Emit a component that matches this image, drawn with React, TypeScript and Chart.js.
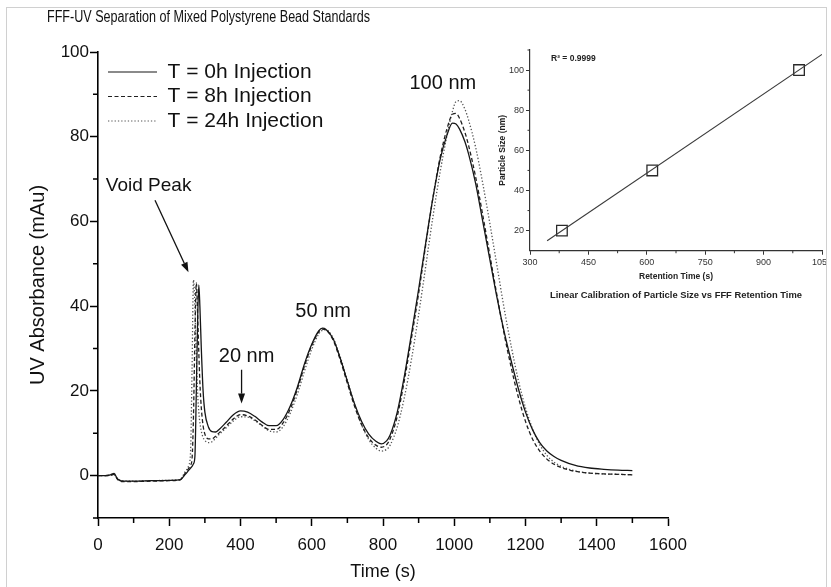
import React, { useEffect, useRef } from 'react';
import { Chart, registerables } from 'chart.js';

Chart.register(...registerables);

const FONT = '"Liberation Sans", Arial, sans-serif';

// ---------- main chromatogram data ----------
const timeS = [
  0, 20, 35, 45, 55, 70, 100, 150, 200, 230, 245, 255, 260, 264, 268, 272, 276, 280, 283, 286,
  290, 295, 300, 310, 320, 330, 340, 360, 380, 400, 420, 440, 460, 480, 500, 520, 540, 560, 580, 600,
  620, 630, 640, 660, 680, 700, 720, 740, 760, 780, 795, 810, 820, 840, 860, 880, 900, 920, 940, 960,
  980, 995, 1005, 1015, 1030, 1040, 1060, 1080, 1100, 1120, 1140, 1160, 1180, 1200, 1220, 1240, 1260, 1280, 1300, 1340,
  1380, 1420, 1460, 1500,
];

const absT0h = [
  0, 0, 0.2, 0.5, -0.8, -1.3, -1.3, -1.2, -1.1, -1.0, 0.3, 1.3, 1.8, 2.2, 2.8, 4.5, 20, 38, 45, 40,
  30, 20, 15, 11.5, 10.4, 10.3, 10.9, 12.6, 14.4, 15.3, 15.0, 14.0, 12.7, 11.8, 11.8, 13.3, 16.5, 21, 26.5, 31,
  34.2, 34.8, 34.5, 32.3, 27.7, 22.3, 17, 12.8, 9.8, 8.1, 7.5, 8.2, 9.6, 15, 23.5, 33.5, 44, 55, 65.5, 74.5,
  80.5, 83.2, 83, 81.8, 78.8, 76, 69, 60, 51, 42, 34, 27, 20.5, 15, 10.8, 7.8, 5.8, 4.5, 3.6, 2.4,
  1.8, 1.5, 1.3, 1.2,
];

const absT8h = [
  0, 0, 0.1, 0.3, -0.9, -1.4, -1.4, -1.3, -1.2, -1.0, 0.6, 1.8, 2.5, 4, 14, 33, 45.5, 37, 29, 22,
  16, 11.8, 9.8, 8.7, 8.7, 9.3, 10.1, 11.7, 13.4, 14.4, 14.1, 13.2, 11.9, 10.9, 10.9, 12.5, 15.8, 20.5, 26, 30.7,
  34, 34.6, 34.4, 32, 27.3, 21.8, 16.4, 12, 8.9, 7.2, 6.7, 7.3, 8.7, 14, 22.5, 32.5, 43, 54.5, 65.5, 75,
  82, 85.3, 85.5, 84.3, 81, 78, 70.5, 61.5, 52, 42.5, 33.5, 25.5, 18.5, 12.8, 8.6, 5.8, 3.9, 2.7, 1.9, 1.0,
  0.6, 0.4, 0.3, 0.2,
];

const absT24h = [
  0, 0, 0.1, 0.2, -0.7, -1.2, -1.3, -1.2, -1.1, -0.9, 1.0, 2.5, 6, 25, 46.2, 40, 28, 19, 15, 12.5,
  10.5, 9, 8.3, 7.8, 8.0, 8.8, 9.7, 11.3, 12.9, 13.9, 13.8, 13.0, 11.8, 10.6, 10.3, 11.6, 14.8, 19.3, 24.8, 29.8,
  33.5, 34.3, 34.4, 32.5, 28, 22.5, 16.8, 12, 8.5, 6.5, 5.8, 6.2, 7.2, 11.5, 18.5, 27.5, 38, 49.5, 61, 71.5,
  80.5, 86, 88.3, 88.5, 86.5, 84, 77.5, 69, 59.5, 49.5, 39.5, 30.5, 22.5, 16, 11, 7.3, 4.8, 3.2, 2.2, 1.1,
  0.6, 0.4, 0.3, 0.2,
];

const seriesLabels = ['T = 0h Injection', 'T = 8h Injection', 'T = 24h Injection'];

const mainXMinorTicks = [100, 300, 500, 700, 900, 1100, 1300, 1500];
const mainYMinorTicks = [-10, 10, 30, 50, 70, 90];

const peakNotes = [
  { text: 'Void Peak', t: 22, v: 68.4, align: 'left' },
  { text: '20 nm', t: 417, v: 28.2, align: 'center' },
  { text: '50 nm', t: 632, v: 38.8, align: 'center' },
  { text: '100 nm', t: 968, v: 92.5, align: 'center' },
];
const noteArrows = [
  { t1: 160, v1: 65, t2: 254, v2: 48 },
  { t1: 403, v1: 25, t2: 403, v2: 17 },
];

// ---------- inset calibration data ----------
const calibTimes = [382, 614, 991];
const calibSizes = [20, 50, 100];
const fitTimes = [344, 1050];
const fitSizes = [15.0, 107.8];
const insetXMinorTicks = [375, 525, 675, 825, 975];
const insetYMinorTicks = [30, 50, 70, 90, 110];

const minorTickPlugin = {
  id: 'minorTicks',
  afterDraw(chart: any, _a: any, opts: any) {
    const { ctx, scales } = chart;
    const xs = scales.x;
    const ys = scales.y;
    ctx.save();
    ctx.strokeStyle = opts.color || '#000';
    ctx.lineWidth = opts.width || 1;
    ctx.beginPath();
    (opts.xValues || []).forEach((v: number) => {
      const px = xs.getPixelForValue(v);
      ctx.moveTo(px, ys.bottom);
      ctx.lineTo(px, ys.bottom + opts.len);
    });
    (opts.yValues || []).forEach((v: number) => {
      const py = ys.getPixelForValue(v);
      ctx.moveTo(xs.left, py);
      ctx.lineTo(xs.left - opts.len, py);
    });
    ctx.stroke();
    ctx.restore();
  },
};

function drawArrow(ctx: any, x1: number, y1: number, x2: number, y2: number) {
  const ang = Math.atan2(y2 - y1, x2 - x1);
  const hl = 10;
  const hw = 3.5;
  const bx = x2 - hl * Math.cos(ang);
  const by = y2 - hl * Math.sin(ang);
  ctx.beginPath();
  ctx.moveTo(x1, y1);
  ctx.lineTo(bx, by);
  ctx.stroke();
  ctx.beginPath();
  ctx.moveTo(x2, y2);
  ctx.lineTo(bx + hw * Math.sin(ang), by - hw * Math.cos(ang));
  ctx.lineTo(bx - hw * Math.sin(ang), by + hw * Math.cos(ang));
  ctx.closePath();
  ctx.fill();
}

const notesPlugin = {
  id: 'peakNotes',
  afterDatasetsDraw(chart: any) {
    const { ctx } = chart;
    const xs = chart.scales.x;
    const ys = chart.scales.y;
    ctx.save();
    ctx.fillStyle = '#111';
    ctx.strokeStyle = '#111';
    ctx.lineWidth = 1.3;
    ctx.textBaseline = 'middle';
    peakNotes.forEach((n) => {
      ctx.font = `${n.text === 'Void Peak' ? 19 : 20}px ${FONT}`;
      ctx.textAlign = n.align;
      ctx.fillText(n.text, xs.getPixelForValue(n.t), ys.getPixelForValue(n.v));
    });
    noteArrows.forEach((a) => {
      drawArrow(ctx, xs.getPixelForValue(a.t1), ys.getPixelForValue(a.v1), xs.getPixelForValue(a.t2), ys.getPixelForValue(a.v2));
    });
    ctx.restore();
  },
  afterDraw(chart: any) {
    const { ctx } = chart;
    ctx.save();
    ctx.fillStyle = '#111';
    ctx.font = `16px ${FONT}`;
    ctx.textAlign = 'left';
    ctx.textBaseline = 'middle';
    ctx.translate(47, 18);
    ctx.scale(0.786, 1);
    ctx.fillText('FFF-UV Separation of Mixed Polystyrene Bead Standards', 0, 0);
    ctx.restore();
  },
};

const legendShiftPlugin = {
  id: 'legendShift',
  afterLayout(chart: any) {
    const lg = chart.legend;
    const ca = chart.chartArea;
    if (!lg || !ca) return;
    lg.left = ca.left + 6.5;
    lg.top = ca.top + 6;
    lg.right = ca.right;
    lg.bottom = ca.bottom;
  },
};

function mainConfig(): any {
  const mk = (vals: number[]) => timeS.map((t, i) => ({ x: t, y: vals[i] }));
  return {
    type: 'line',
    data: {
      datasets: [
        { label: seriesLabels[0], data: mk(absT0h), borderColor: '#161616', borderWidth: 1.3, borderDash: [], pointRadius: 0, cubicInterpolationMode: 'monotone', fill: false },
        { label: seriesLabels[1], data: mk(absT8h), borderColor: '#202020', borderWidth: 1.3, borderDash: [4, 2.5], pointRadius: 0, cubicInterpolationMode: 'monotone', fill: false },
        { label: seriesLabels[2], data: mk(absT24h), borderColor: '#555555', borderWidth: 1.3, borderDash: [1.3, 2], pointRadius: 0, cubicInterpolationMode: 'monotone', fill: false },
      ],
    },
    options: {
      responsive: false,
      animation: false,
      devicePixelRatio: 1,
      layout: { padding: { left: 0, top: 52, right: 163, bottom: 0 } },
      plugins: {
        legend: {
          position: 'chartArea',
          align: 'start',
          labels: {
            usePointStyle: true,
            pointStyle: 'line',
            pointStyleWidth: 49,
            padding: 3.5,
            color: '#111',
            font: { size: 21, family: FONT },
            generateLabels: (chart: any) => {
              const base = (Chart.defaults as any).plugins.legend.labels.generateLabels(chart);
              return base.map((it: any) => {
                const ds = chart.data.datasets[it.datasetIndex];
                return {
                  ...it,
                  pointStyle: 'line',
                  lineDash: ds.borderDash,
                  strokeStyle: ds.borderColor,
                  fillStyle: ds.borderColor,
                  lineWidth: 1.2,
                };
              });
            },
          },
        },
        title: { display: false },
        tooltip: { enabled: false },
        minorTicks: { xValues: mainXMinorTicks, yValues: mainYMinorTicks, len: 5, width: 1.5, color: '#000' },
      },
      scales: {
        x: {
          type: 'linear',
          min: 0,
          max: 1600,
          afterFit: (s: any) => { s.height = 69; },
          border: { display: true, color: '#000', width: 1.6 },
          grid: {
            drawOnChartArea: false,
            drawTicks: true,
            tickLength: 8,
            tickWidth: 1.5,
            tickColor: (c: any) => (c.tick && c.tick.value % 200 === 0 ? '#000' : 'rgba(0,0,0,0)'),
          },
          ticks: {
            stepSize: 100,
            autoSkip: false,
            maxRotation: 0,
            padding: 9,
            color: '#111',
            font: { size: 17, family: FONT },
            callback: (v: any) => (Number(v) % 200 === 0 ? String(v) : ''),
          },
          title: { display: true, text: 'Time (s)', color: '#111', font: { size: 18, family: FONT }, padding: { top: 0, bottom: 4 } },
        },
        y: {
          type: 'linear',
          min: -10,
          max: 100,
          afterFit: (s: any) => { s.width = 98; },
          border: { display: true, color: '#000', width: 1.6 },
          grid: {
            drawOnChartArea: false,
            drawTicks: true,
            tickLength: 8,
            tickWidth: 1.5,
            tickColor: (c: any) => (c.tick && c.tick.value % 20 === 0 ? '#000' : 'rgba(0,0,0,0)'),
          },
          ticks: {
            stepSize: 10,
            autoSkip: false,
            padding: 1,
            color: '#111',
            font: { size: 17, family: FONT },
            callback: (v: any) => (Number(v) % 20 === 0 ? String(v) : ''),
          },
          title: { display: true, text: 'UV Absorbance (mAu)', color: '#111', font: { size: 20, family: FONT }, padding: { top: 26, bottom: 0 } },
        },
      },
    },
    plugins: [minorTickPlugin, notesPlugin, legendShiftPlugin],
  };
}

const r2Plugin = {
  id: 'r2Text',
  afterDatasetsDraw(chart: any) {
    const { ctx } = chart;
    const xs = chart.scales.x;
    const ys = chart.scales.y;
    ctx.save();
    ctx.fillStyle = '#222';
    ctx.font = `bold 8.5px ${FONT}`;
    ctx.textAlign = 'left';
    ctx.textBaseline = 'middle';
    ctx.fillText('R\u00B2 = 0.9999', xs.getPixelForValue(354), ys.getPixelForValue(105.5));
    ctx.restore();
  },
};

function insetConfig(): any {
  return {
    type: 'scatter',
    data: {
      datasets: [
        {
          label: 'Linear fit',
          data: fitTimes.map((x, i) => ({ x, y: fitSizes[i] })),
          showLine: true,
          borderColor: '#3a3a3a',
          borderWidth: 1.1,
          pointRadius: 0,
        },
        {
          label: 'Standards',
          data: calibTimes.map((x, i) => ({ x, y: calibSizes[i] })),
          showLine: false,
          pointStyle: 'rect',
          pointRadius: 7.5,
          borderColor: '#2a2a2a',
          borderWidth: 1.3,
          backgroundColor: 'rgba(0,0,0,0)',
        },
      ],
    },
    options: {
      responsive: false,
      animation: false,
      devicePixelRatio: 1,
      layout: { padding: { left: 0, top: 10, right: 18, bottom: 0 } },
      plugins: {
        legend: { display: false },
        tooltip: { enabled: false },
        title: {
          display: true,
          position: 'bottom',
          fullSize: false,
          text: 'Linear Calibration of Particle Size vs FFF Retention Time',
          color: '#222',
          font: { size: 9.4, weight: 'bold', family: FONT },
          padding: { top: 2, bottom: 4 },
        },
        minorTicks: { xValues: insetXMinorTicks, yValues: insetYMinorTicks, len: 2.5, width: 1, color: '#333' },
      },
      scales: {
        x: {
          type: 'linear',
          min: 300,
          max: 1050,
          afterFit: (s: any) => { s.height = 37; },
          border: { display: true, color: '#333', width: 1.2 },
          grid: {
            drawOnChartArea: false,
            tickLength: 4,
            tickColor: (c: any) => (c.tick && (c.tick.value - 300) % 150 === 0 ? '#333' : 'rgba(0,0,0,0)'),
          },
          ticks: {
            stepSize: 75,
            autoSkip: false,
            maxRotation: 0,
            padding: 2,
            color: '#333',
            font: { size: 9, family: FONT },
            callback: (v: any) => ((Number(v) - 300) % 150 === 0 ? String(v) : ''),
          },
          title: { display: true, text: 'Retention Time (s)', color: '#222', font: { size: 8.5, weight: 'bold', family: FONT }, padding: { top: 0, bottom: 6 } },
        },
        y: {
          type: 'linear',
          min: 10,
          max: 110,
          afterFit: (s: any) => { s.width = 35; },
          border: { display: true, color: '#333', width: 1.2 },
          grid: {
            drawOnChartArea: false,
            tickLength: 4,
            tickColor: (c: any) => (c.tick && c.tick.value % 20 === 0 ? '#333' : 'rgba(0,0,0,0)'),
          },
          ticks: {
            stepSize: 10,
            autoSkip: false,
            padding: 2,
            color: '#333',
            font: { size: 9, family: FONT },
            callback: (v: any) => (Number(v) % 20 === 0 ? String(v) : ''),
          },
          title: { display: true, text: 'Particle Size (nm)', color: '#222', font: { size: 8.5, weight: 'bold', family: FONT }, padding: { top: 3, bottom: 0 } },
        },
      },
    },
    plugins: [minorTickPlugin, r2Plugin],
  };
}

export default function App() {
  const mainRef = useRef<HTMLCanvasElement>(null);
  const insetRef = useRef<HTMLCanvasElement>(null);

  useEffect(() => {
    Chart.defaults.font.family = FONT;
    const main = new Chart(mainRef.current as HTMLCanvasElement, mainConfig());
    const inset = new Chart(insetRef.current as HTMLCanvasElement, insetConfig());
    return () => {
      main.destroy();
      inset.destroy();
    };
  }, []);

  return (
    <div style={{ position: 'absolute', left: 0, top: 0, width: 831, height: 587, background: '#fff', overflow: 'hidden' }}>
      <div style={{ position: 'absolute', left: 6, top: 7, width: 821, height: 600, border: '1px solid #d0d0d0', boxSizing: 'border-box' }} />
      <canvas ref={mainRef} width={831} height={587} style={{ position: 'absolute', left: 0, top: 0 }} />
      <div style={{ position: 'absolute', left: 495, top: 40, width: 331, height: 265, overflow: 'hidden' }}>
        <canvas ref={insetRef} width={345} height={265} style={{ position: 'absolute', left: 0, top: 0 }} />
      </div>
    </div>
  );
}
